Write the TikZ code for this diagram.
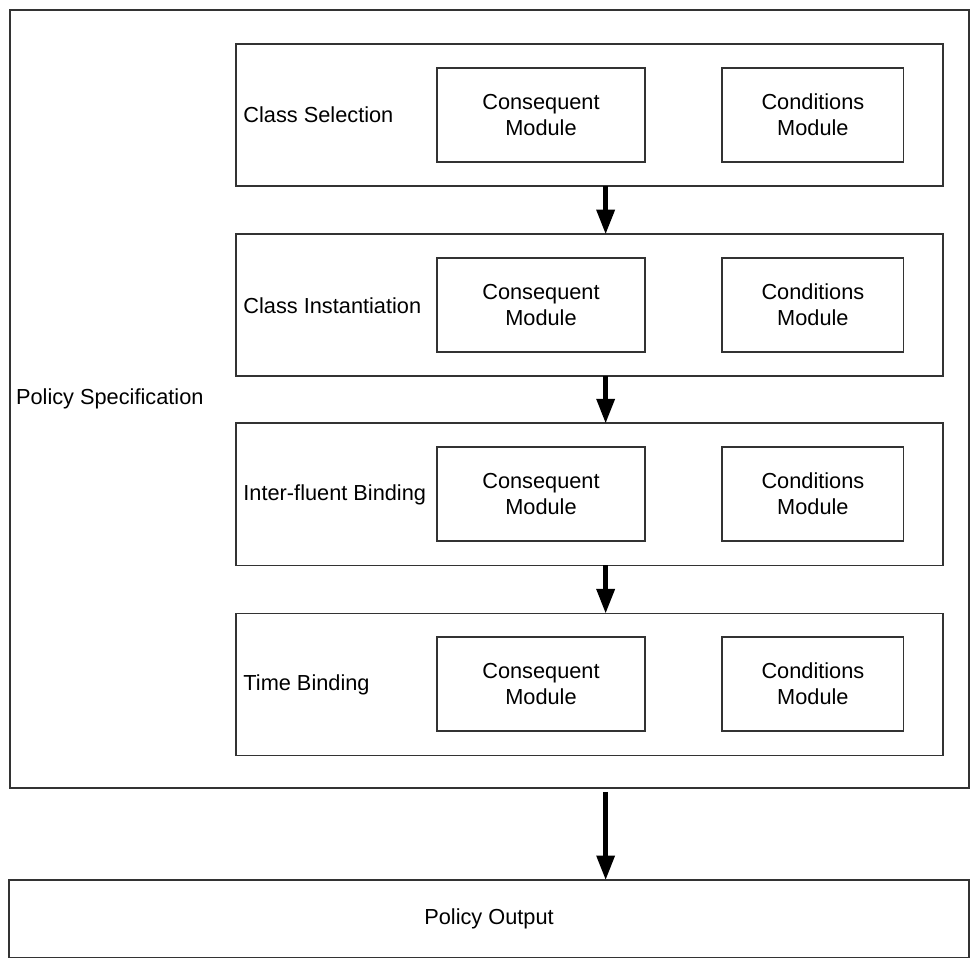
\documentclass[tikz,border=0pt]{standalone}
\usepackage{fontspec}
\setmainfont{Liberation Sans}
\usetikzlibrary{arrows.meta}
\newcommand\diagfont{\fontsize{11.1pt}{13.3pt}\selectfont}
\begin{document}
\begin{tikzpicture}[x=0.5pt,y=-0.5pt,
  box/.style={draw=black!80, line width=0.9pt, inner sep=0pt, outer sep=0pt, anchor=north west},
  stagebox/.style={box, minimum width=360.5pt, minimum height=72.5pt},
  conseq/.style={box, minimum width=106pt, minimum height=48pt, align=center, font=\diagfont},
  cond/.style={box, minimum width=92.5pt, minimum height=48pt, align=center, font=\diagfont},
  caption/.style={anchor=west, inner sep=3.5pt, font=\diagfont},
  flow/.style={line width=2.3pt, -{Triangle[length=12.5pt,width=9pt]}}]
  \useasboundingbox (0,0) rectangle (999,995);

  % outer container
  \node[box, minimum width=489.5pt, minimum height=397pt] (spec) at (10,10) {};
  \node[caption, inner sep=3pt] (spec-label) at (spec.west) {Policy Specification};

  % the four processing stages
  \foreach \i/\t/\txt in {1/45/Class Selection, 2/239/Class Instantiation,
                          3/432/Inter-fluent Binding, 4/626/Time Binding}{
    \node[stagebox] (s\i) at (241,\t) {};
    \node[caption] (s\i-label) at (s\i.west) {\txt};
    \node[conseq] (s\i-cons) at (446,{\t+24}) {Consequent\\Module};
    \node[cond] (s\i-cond) at (737,{\t+24}) {Conditions\\Module};
  }

  % output
  \node[box, minimum width=490pt, minimum height=39.5pt, font=\diagfont] (out) at (9,898) {Policy Output};

  % flow arrows
  \coordinate (ax) at (618,0);
  \draw[flow] (s1.south -| ax) -- (s2.north -| ax);
  \draw[flow] (s2.south -| ax) -- (s3.north -| ax);
  \draw[flow] (s3.south -| ax) -- (s4.north -| ax);
  \draw[flow, shorten <=2pt] (spec.south -| ax) -- (out.north -| ax);
\end{tikzpicture}
\end{document}
